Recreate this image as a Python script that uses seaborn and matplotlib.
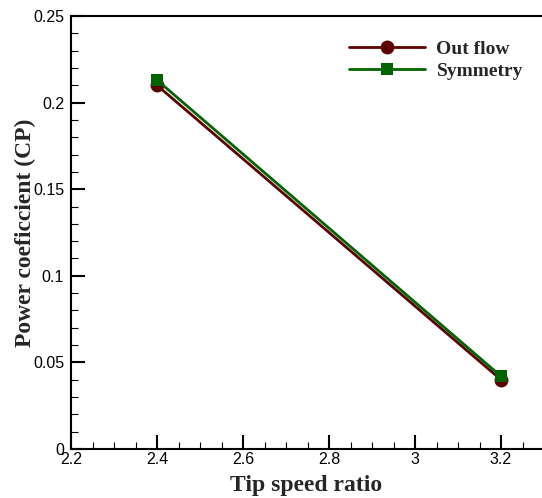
import matplotlib
matplotlib.use("Agg")
import matplotlib.pyplot as plt
import seaborn as sns
import pandas as pd
from matplotlib.ticker import MultipleLocator, FuncFormatter

tsr = [2.4, 3.2]
cp_outflow = [0.210, 0.040]
cp_symmetry = [0.213, 0.042]
series_names = ["Out flow", "Symmetry"]
xticks = [2.2, 2.4, 2.6, 2.8, 3.0, 3.2]
yticks = [0, 0.05, 0.1, 0.15, 0.2, 0.25]

df = pd.DataFrame({
    "tsr": tsr + tsr,
    "cp": cp_outflow + cp_symmetry,
    "case": [series_names[0]] * len(tsr) + [series_names[1]] * len(tsr),
})

sns.set_style("white")
plt.rcParams["font.family"] = ["Liberation Sans", "DejaVu Sans"]

fig = plt.figure(figsize=(5.42, 4.98), dpi=100)
ax = fig.add_axes([71 / 542, 49 / 498, 471 / 542, 433 / 498])

palette = {"Out flow": "#5c0000", "Symmetry": "#006400"}
markers = {"Out flow": "o", "Symmetry": "s"}
sizes = {"Out flow": 10, "Symmetry": 8.5}

for name in series_names:
    sub = df[df["case"] == name]
    sns.lineplot(data=sub, x="tsr", y="cp", ax=ax, color=palette[name],
                 marker=markers[name], markersize=sizes[name], linewidth=2,
                 markeredgewidth=0, label=name)

ax.set_xlim(2.2, 2.2 + 471 / 430)
ax.set_ylim(0, 0.25)
ax.set_xticks(xticks)
ax.set_yticks(yticks)
ax.xaxis.set_minor_locator(MultipleLocator(0.05))
ax.yaxis.set_minor_locator(MultipleLocator(0.01))
ax.xaxis.set_major_formatter(FuncFormatter(lambda v, p: f"{v:g}"))
ax.yaxis.set_major_formatter(FuncFormatter(lambda v, p: f"{v:g}"))
ax.tick_params(which="both", direction="in", top=False, right=False,
               bottom=True, left=True, colors="black", labelsize=11.5)
ax.tick_params(which="major", length=10, width=1.5)
ax.tick_params(which="minor", length=5, width=0.8)
ax.tick_params(axis="x", pad=2)
ax.tick_params(axis="y", pad=5)
for s in ax.spines.values():
    s.set_color("black")
    s.set_linewidth(1.5)
ax.spines["right"].set_visible(False)

ax.set_xlabel("Tip speed ratio", family="Liberation Serif", fontweight="bold",
              fontsize=17, labelpad=6)
ax.set_ylabel("Power coeficcient (CP)", family="Liberation Serif",
              fontweight="bold", fontsize=17, labelpad=-2)

leg = ax.legend(loc="upper left", bbox_to_anchor=((349 - 71) / 471, 0.943), frameon=False,
                prop={"family": "Liberation Serif", "weight": "bold", "size": 14},
                handlelength=3.9, handletextpad=0.6, labelspacing=0.2,
                borderaxespad=0, borderpad=0)

fig.savefig("out.png", dpi=100)
